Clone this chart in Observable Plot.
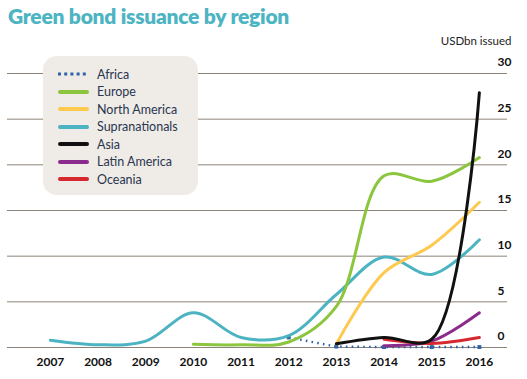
<!DOCTYPE html>
<html>
<head>
<meta charset="utf-8">
<script src="https://cdn.jsdelivr.net/npm/d3@7"></script>
<script src="https://cdn.jsdelivr.net/npm/@observablehq/plot@0.6"></script>
<style>
  body { margin: 0; background: #fff; }
  #wrap { position: relative; width: 527px; height: 379px; overflow: hidden; font-family: Lato, sans-serif; }
  #title { position: absolute; left: 8px; top: 3px; font-family: Lato, sans-serif; font-weight: 800; font-size: 21px; color: #4db4c2; white-space: nowrap; letter-spacing: -0.25px; }
  #chart { position: absolute; left: 0; top: 30px; }
  #legend { position: absolute; left: 43px; top: 56px; width: 155px; height: 139px; background: #efece7; border-radius: 14px; }
  .row { position: absolute; left: 15px; height: 16px; display: flex; align-items: center; font-size: 12.5px; color: #2a3550; white-space: nowrap; }
  .row svg { margin-right: 8px; }
</style>
</head>
<body>
<div id="wrap">
  <div id="title">Green bond issuance by region</div>
  <div id="chart"></div>
  <div id="legend"></div>
</div>
<script>
const years = [2007, 2008, 2009, 2010, 2011, 2012, 2013, 2014, 2015, 2016];
const seriesNames = ["Africa", "Europe", "North America", "Supranationals", "Asia", "Latin America", "Oceania"];
const seriesColors = ["#2f63a8", "#8cc63e", "#fdc94f", "#4bb3c1", "#111111", "#8b2b8c", "#d6282f"];
const africa         = [null, null, null, null, null, 1.1, 0.1, 0.05, 0.05, 0.05];
const europe         = [null, null, null, 0.35, 0.3, 0.6, 4.5, 18.8, 18.2, 20.8];
const northAmerica   = [null, null, null, null, null, null, 0.4, 8.2, 11.2, 15.9];
const supranationals = [0.8, 0.3, 0.7, 3.8, 1.1, 1.3, 5.8, 9.9, 8.0, 11.8];
const asia           = [null, null, null, null, null, null, 0.4, 1.1, 0.9, 27.9];
const latinAmerica   = [null, null, null, null, null, null, null, 0.2, 0.7, 3.8];
const oceania        = [null, null, null, null, null, null, null, 0.9, 0.45, 1.1];
const yTicks = [0, 5, 10, 15, 20, 25, 30];
const yUnit = "USDbn issued";

const valuesBySeries = {
  "Africa": africa, "Europe": europe, "North America": northAmerica,
  "Supranationals": supranationals, "Asia": asia, "Latin America": latinAmerica, "Oceania": oceania
};
const drawOrder = ["Supranationals", "North America", "Europe", "Latin America", "Oceania", "Asia"];
const toRows = (name) => years.map((year, i) => ({year, value: valuesBySeries[name][i], series: name})).filter(d => d.value != null);
const solidRows = drawOrder.flatMap(toRows);
const africaRows = toRows("Africa");

const plot = Plot.plot({
  width: 527,
  height: 349,
  marginTop: 43,
  marginBottom: 32,
  marginLeft: 7,
  marginRight: 20,
  style: {fontFamily: "Lato, sans-serif", background: "transparent"},
  x: {domain: [2006.1, 2016.59]},
  y: {domain: [0, 30]},
  color: {domain: seriesNames, range: seriesColors},
  marks: [
    Plot.ruleY(yTicks, {stroke: "#8c8378", strokeWidth: 1}),
    Plot.axisX({ticks: years, tickFormat: d => String(d), tickSize: 0, tickPadding: 10, fontSize: 12, fontWeight: "bold", fill: "#111", label: null}),
    Plot.axisY({anchor: "right", ticks: yTicks, tickSize: 0, tickPadding: 0, dx: -10, dy: -11, textAnchor: "start", fontSize: 12, fontWeight: "bold", fill: "#111", label: null}),
    Plot.text([yUnit], {frameAnchor: "top-right", text: d => d, dx: 4, dy: -37, textAnchor: "end", fontSize: 11.5, fill: "#222"}),
    Plot.line(africaRows, {x: "year", y: "value", stroke: seriesColors[0], strokeWidth: 2.4, strokeDasharray: "1.6 4.2", strokeLinecap: "butt"}),
    Plot.dot(africaRows, {x: "year", y: "value", symbol: "square", r: 2.2, fill: seriesColors[0]}),
    Plot.line(solidRows, {x: "year", y: "value", z: "series", stroke: "series", strokeWidth: 3, curve: "catmull-rom"})
  ]
});
document.getElementById("chart").appendChild(plot);

const legend = document.getElementById("legend");
seriesNames.forEach((name, i) => {
  const row = document.createElement("div");
  row.className = "row";
  row.style.top = (10 + i * 17.5) + "px";
  const dash = name === "Africa" ? 'stroke-dasharray="3 3.2" stroke-width="3"' : 'stroke-width="4" stroke-linecap="round"';
  row.innerHTML = `<svg width="31" height="6"><line x1="${name === "Africa" ? 0 : 2}" x2="${name === "Africa" ? 31 : 29}" y1="3" y2="3" stroke="${seriesColors[i]}" ${dash}/></svg><span>${name}</span>`;
  legend.appendChild(row);
});
</script>
</body>
</html>
